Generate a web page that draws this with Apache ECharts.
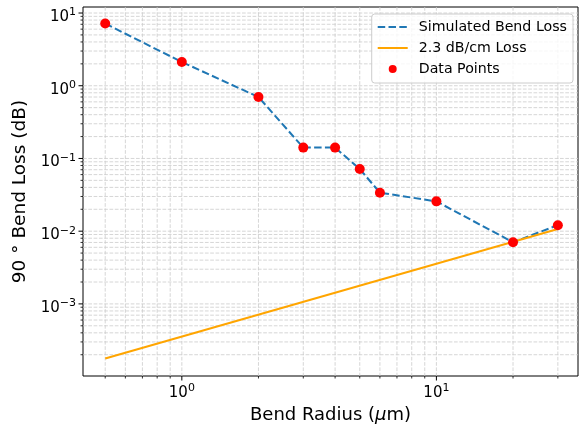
<!DOCTYPE html>
<html lang="en">
<head>
    <meta charset="UTF-8">
    <title>Bend Loss</title>
    <style>
        html, body { margin: 0; padding: 0; background: #fff; }
        #main { width: 581px; height: 429px; }
    </style>
    <script src="https://cdn.jsdelivr.net/npm/echarts@6/dist/echarts.min.js"></script>
</head>
<body>
    <div id="main"></div>
    <script type="text/javascript">
        // data
        var radius = [0.5, 1, 2, 3, 4, 5, 6, 10, 20, 30];
        var bendLoss = [7.16, 2.12, 0.70, 0.141, 0.141, 0.0716, 0.0338, 0.0257, 0.00705, 0.0121];
        var refRadius = [0.5, 30];
        var refLoss = [0.000178, 0.0107];

        // axis ranges and ticks
        var xRange = [0.409, 36.0];
        var yRange = [0.000102, 12.1];
        var xMajorTicks = [1, 10];
        var yMajorTicks = [0.001, 0.01, 0.1, 1, 10];
        var xMinorTicks = [0.5, 0.6, 0.7, 0.8, 0.9, 2, 3, 4, 5, 6, 7, 8, 9, 20, 30];
        var yMinorTicks = [];
        [-4, -3, -2, -1, 0].forEach(function (d) {
            for (var m = 2; m <= 9; m++) {
                var v = m * Math.pow(10, d);
                if (v > yRange[0] && v < yRange[1]) yMinorTicks.push(v);
            }
        });

        var FONT = 'DejaVu Sans';
        var gridColor = '#cccccc';

        function pairs(xs, ys) {
            return xs.map(function (x, i) { return [x, ys[i]]; });
        }

        function powLabel(v) {
            var e = Math.round(Math.log10(v));
            if (Math.abs(Math.log10(v) - e) > 1e-6) return '';
            var s = e < 0 ? '\u2212' + (-e) : '' + e;
            return '{b|10}{sup|' + s + '}';
        }

        var labelRich = {
            b: { fontSize: 15, lineHeight: 20, fontFamily: FONT, color: '#000' },
            sup: { fontSize: 11, lineHeight: 11, verticalAlign: 'top', fontFamily: FONT, color: '#000' }
        };

        // grid lines + outward ticks, drawn through the axes
        function xLines(params, api) {
            var x = api.value(0);
            var major = api.value(2);
            var top = api.coord([x, yRange[1]]);
            var bot = api.coord([x, yRange[0]]);
            return {
                type: 'group',
                children: [
                    { type: 'line', shape: { x1: top[0], y1: top[1], x2: bot[0], y2: bot[1] },
                      style: { stroke: gridColor, lineWidth: 0.8, lineDash: [3.7, 1.6] } },
                    { type: 'line', shape: { x1: bot[0], y1: bot[1], x2: bot[0], y2: bot[1] + (major ? 4.5 : 2.5) },
                      style: { stroke: '#000', lineWidth: major ? 1 : 0.8 } }
                ]
            };
        }
        function yLines(params, api) {
            var y = api.value(1);
            var major = api.value(2);
            var left = api.coord([xRange[0], y]);
            var right = api.coord([xRange[1], y]);
            return {
                type: 'group',
                children: [
                    { type: 'line', shape: { x1: left[0], y1: left[1], x2: right[0], y2: right[1] },
                      style: { stroke: gridColor, lineWidth: 0.8, lineDash: [3.7, 1.6] } },
                    { type: 'line', shape: { x1: left[0], y1: left[1], x2: left[0] - (major ? 4.5 : 2.5), y2: left[1] },
                      style: { stroke: '#000', lineWidth: major ? 1 : 0.8 } }
                ]
            };
        }

        var xGridData = xMajorTicks.map(function (v) { return [v, yRange[0], 1]; })
            .concat(xMinorTicks.map(function (v) { return [v, yRange[0], 0]; }));
        var yGridData = yMajorTicks.map(function (v) { return [xRange[0], v, 1]; })
            .concat(yMinorTicks.map(function (v) { return [xRange[0], v, 0]; }));

        var chart = echarts.init(document.getElementById('main'));

        var option = {
            animation: false,
            backgroundColor: '#fff',
            textStyle: { fontFamily: FONT },
            grid: {
                left: 83, top: 7, right: 1, bottom: 53,
                show: true, borderColor: '#000', borderWidth: 1, backgroundColor: 'transparent'
            },
            legend: {
                orient: 'vertical',
                right: 8, top: 14,
                padding: [6, 6, 7, 5],
                itemWidth: 30, itemHeight: 8, itemGap: 7,
                backgroundColor: 'rgba(255,255,255,0.8)',
                borderColor: '#cccccc', borderWidth: 1, borderRadius: 3,
                textStyle: { fontFamily: FONT, fontSize: 14.2, color: '#000', padding: [0, 0, 0, 6] },
                data: [
                    { name: 'Simulated Bend Loss', itemStyle: { opacity: 0 } },
                    { name: '2.3 dB/cm Loss', itemStyle: { opacity: 0 } },
                    { name: 'Data Points', icon: 'circle' }
                ]
            },
            xAxis: {
                type: 'log',
                logBase: 10,
                min: xRange[0], max: xRange[1],
                name: 'Bend Radius ({i|\u03bc}m)',
                nameLocation: 'middle',
                nameGap: 30,
                nameTextStyle: {
                    fontFamily: FONT, fontSize: 18, color: '#000',
                    rich: { i: { fontFamily: FONT, fontSize: 18, fontStyle: 'italic', color: '#000' } }
                },
                axisLine: { show: false },
                axisTick: { show: false },
                splitLine: { show: false },
                axisLabel: { margin: 7, formatter: powLabel, rich: labelRich, showMinLabel: true, showMaxLabel: true }
            },
            yAxis: {
                type: 'log',
                logBase: 10,
                min: yRange[0], max: yRange[1],
                name: '90 \u00b0 Bend Loss (dB)',
                nameLocation: 'middle',
                nameGap: 45,
                nameTextStyle: { fontFamily: FONT, fontSize: 18.5, color: '#000' },
                axisLine: { show: false },
                axisTick: { show: false },
                splitLine: { show: false },
                axisLabel: { margin: 7, padding: [8, 0, 0, 0], formatter: powLabel, rich: labelRich }
            },
            series: [
                {
                    type: 'custom', silent: true, z: 1,
                    data: xGridData, renderItem: xLines
                },
                {
                    type: 'custom', silent: true, z: 1,
                    data: yGridData, renderItem: yLines
                },
                {
                    name: 'Simulated Bend Loss',
                    type: 'line',
                    z: 3,
                    symbol: 'none',
                    data: pairs(radius, bendLoss),
                    color: '#1f77b4',
                    lineStyle: { color: '#1f77b4', width: 2, type: [7.5, 3.3] }
                },
                {
                    name: '2.3 dB/cm Loss',
                    type: 'line',
                    z: 4,
                    symbol: 'none',
                    data: pairs(refRadius, refLoss),
                    color: '#ffa500',
                    lineStyle: { color: '#ffa500', width: 2 }
                },
                {
                    name: 'Data Points',
                    type: 'scatter',
                    z: 5,
                    symbolSize: 10,
                    data: pairs(radius, bendLoss),
                    itemStyle: { color: '#ff0000', opacity: 1 }
                }
            ]
        };

        chart.setOption(option);
    </script>
</body>
</html>
